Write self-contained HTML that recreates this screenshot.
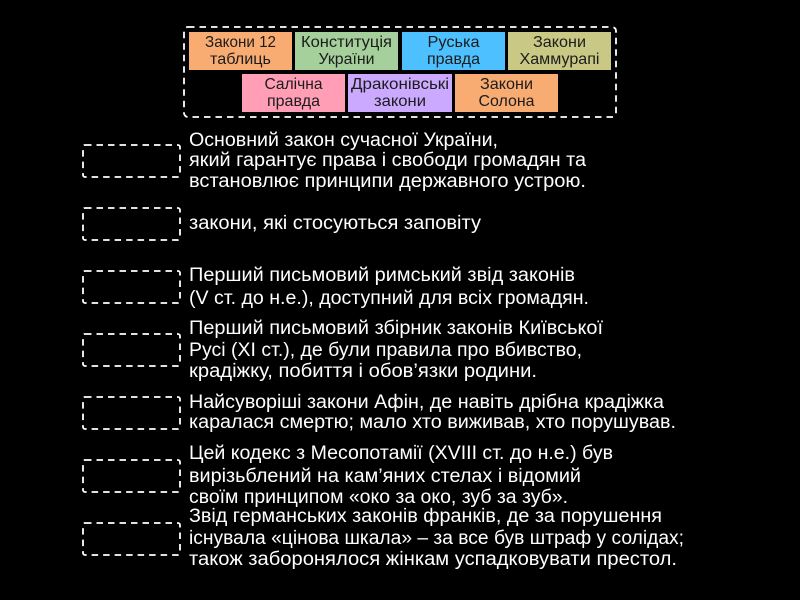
<!DOCTYPE html>
<html><head><meta charset="utf-8"><style>
html,body{margin:0;padding:0;background:#000;width:800px;height:600px;overflow:hidden}
svg{display:block}
text{font-family:"Liberation Sans","DejaVu Sans",sans-serif}
.t{fill:#fff;font-size:19px;-webkit-text-stroke:.55px #fff}
.c{fill:#1c1c1c;font-size:16px;text-anchor:middle}
.d{fill:none;stroke:#fff;stroke-width:1.8;stroke-dasharray:6.500 5}
</style></head><body>
<svg width="800" height="600" viewBox="0 0 800 600" xmlns="http://www.w3.org/2000/svg">
<rect width="800" height="600" fill="#000"/>
<rect class="d" x="184" y="27" width="432" height="90" rx="4"/>
<rect x="189" y="32" width="103" height="38" fill="#f8ac72"/>
<rect x="295" y="32" width="103" height="38" fill="#a5cf9b"/>
<rect x="402" y="32" width="103" height="38" fill="#4dc1ff"/>
<rect x="508" y="32" width="103" height="38" fill="#c9c884"/>
<rect x="242" y="74" width="103" height="38" fill="#ff9eb5"/>
<rect x="348" y="74" width="104" height="38" fill="#cba9ff"/>
<rect x="455" y="74" width="103" height="38" fill="#f8ac72"/>
<text class="c" x="240.500" y="47" textLength="71" lengthAdjust="spacingAndGlyphs">Закони 12</text>
<text class="c" x="240.500" y="64" textLength="61" lengthAdjust="spacingAndGlyphs">таблиць</text>
<text class="c" x="346.500" y="47" textLength="91" lengthAdjust="spacingAndGlyphs">Конституція</text>
<text class="c" x="346.500" y="64" textLength="56" lengthAdjust="spacingAndGlyphs">України</text>
<text class="c" x="453.500" y="47" textLength="52" lengthAdjust="spacingAndGlyphs">Руська</text>
<text class="c" x="453.500" y="64" textLength="53" lengthAdjust="spacingAndGlyphs">правда</text>
<text class="c" x="559.500" y="47" textLength="53" lengthAdjust="spacingAndGlyphs">Закони</text>
<text class="c" x="559.500" y="64" textLength="80" lengthAdjust="spacingAndGlyphs">Хаммурапі</text>
<text class="c" x="293.500" y="89" textLength="58" lengthAdjust="spacingAndGlyphs">Салічна</text>
<text class="c" x="293.500" y="106" textLength="53" lengthAdjust="spacingAndGlyphs">правда</text>
<text class="c" x="400" y="89" textLength="98" lengthAdjust="spacingAndGlyphs">Драконівські</text>
<text class="c" x="400" y="106" textLength="52" lengthAdjust="spacingAndGlyphs">закони</text>
<text class="c" x="506.500" y="89" textLength="53" lengthAdjust="spacingAndGlyphs">Закони</text>
<text class="c" x="506.500" y="106" textLength="56" lengthAdjust="spacingAndGlyphs">Солона</text>
<rect class="d" x="83" y="145" width="97" height="32" rx="2"/>
<rect class="d" x="83" y="208" width="97" height="32" rx="2"/>
<rect class="d" x="83" y="271" width="97" height="32" rx="2"/>
<rect class="d" x="83" y="334" width="97" height="32" rx="2"/>
<rect class="d" x="83" y="397" width="97" height="32" rx="2"/>
<rect class="d" x="83" y="460" width="97" height="32" rx="2"/>
<rect class="d" x="83" y="523" width="97" height="32" rx="2"/>
<text class="t" x="189" y="146" textLength="309" lengthAdjust="spacingAndGlyphs">Основний закон сучасної України,</text>
<text class="t" x="189" y="166" textLength="397" lengthAdjust="spacingAndGlyphs">який гарантує права і свободи громадян та</text>
<text class="t" x="189" y="187" textLength="397" lengthAdjust="spacingAndGlyphs">встановлює принципи державного устрою.</text>
<text class="t" x="189" y="229" textLength="292" lengthAdjust="spacingAndGlyphs">закони, які стосуються заповіту</text>
<text class="t" x="189" y="281" textLength="386" lengthAdjust="spacingAndGlyphs">Перший письмовий римський звід законів</text>
<text class="t" x="189" y="304" textLength="400" lengthAdjust="spacingAndGlyphs">(V ст. до н.е.), доступний для всіх громадян.</text>
<text class="t" x="189" y="334" textLength="414" lengthAdjust="spacingAndGlyphs">Перший письмовий збірник законів Київської</text>
<text class="t" x="189" y="356" textLength="393" lengthAdjust="spacingAndGlyphs">Русі (XI ст.), де були правила про вбивство,</text>
<text class="t" x="189" y="377" textLength="348" lengthAdjust="spacingAndGlyphs">крадіжку, побиття і обов’язки родини.</text>
<text class="t" x="189" y="408" textLength="475" lengthAdjust="spacingAndGlyphs">Найсуворіші закони Афін, де навіть дрібна крадіжка</text>
<text class="t" x="189" y="428" textLength="487" lengthAdjust="spacingAndGlyphs">каралася смертю; мало хто виживав, хто порушував.</text>
<text class="t" x="189" y="459" textLength="424" lengthAdjust="spacingAndGlyphs">Цей кодекс з Месопотамії (XVIII ст. до н.е.) був</text>
<text class="t" x="189" y="482" textLength="392" lengthAdjust="spacingAndGlyphs">вирізьблений на кам’яних стелах і відомий</text>
<text class="t" x="189" y="503" textLength="379" lengthAdjust="spacingAndGlyphs">своїм принципом «око за око, зуб за зуб».</text>
<text class="t" x="189" y="522" textLength="473" lengthAdjust="spacingAndGlyphs">Звід германських законів франків, де за порушення</text>
<text class="t" x="189" y="544" textLength="495" lengthAdjust="spacingAndGlyphs">існувала «цінова шкала» – за все був штраф у солідах;</text>
<text class="t" x="189" y="565" textLength="488" lengthAdjust="spacingAndGlyphs">також заборонялося жінкам успадковувати престол.</text>
</svg>
</body></html>
